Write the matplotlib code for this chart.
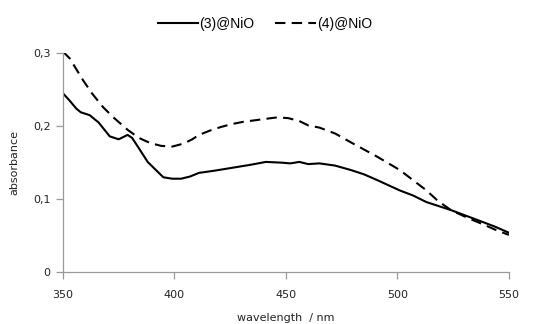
import matplotlib
matplotlib.use("Agg")
import matplotlib.pyplot as plt

# (3)@NiO, solid line
wl_3 = [350, 353, 356, 358, 362, 366, 371, 375, 379, 381, 384, 388, 392, 395, 399, 403,
        407, 411, 418, 426, 434, 441, 448, 452, 456, 460, 465, 472, 479, 485, 491, 501,
        507, 513, 518, 524, 531, 538, 544, 550]
abs_3 = [0.245, 0.235, 0.224, 0.219, 0.215, 0.205, 0.186, 0.182, 0.188, 0.184, 0.170, 0.151,
         0.139, 0.130, 0.128, 0.128, 0.131, 0.136, 0.139, 0.143, 0.147, 0.151, 0.150, 0.149,
         0.151, 0.148, 0.149, 0.146, 0.140, 0.134, 0.126, 0.112, 0.105, 0.096, 0.091, 0.085,
         0.077, 0.069, 0.062, 0.054]

# (4)@NiO, dashed line
wl_4 = [350, 353, 356, 359, 363, 368, 373, 379, 384, 389, 394, 399, 404, 408, 411, 416,
        421, 426, 431, 436, 441, 446, 451, 456, 460, 465, 472, 479, 485, 491, 496, 501,
        507, 513, 518, 524, 531, 538, 544, 550]
abs_4 = [0.302, 0.293, 0.278, 0.263, 0.245, 0.226, 0.211, 0.195, 0.184, 0.177, 0.173, 0.172,
         0.176, 0.182, 0.188, 0.194, 0.199, 0.203, 0.206, 0.208, 0.210, 0.212, 0.211, 0.207,
         0.201, 0.198, 0.190, 0.178, 0.168, 0.158, 0.149, 0.140, 0.126, 0.112, 0.098, 0.085,
         0.075, 0.066, 0.058, 0.051]

x_ticks = [350, 400, 450, 500, 550]
y_ticks = [0, 0.1, 0.2, 0.3]
y_labels = ["0", "0,1", "0,2", "0,3"]

fig = plt.figure(figsize=(5.52, 3.24), dpi=100)
ax = fig.add_axes([0.114, 0.160, 0.808, 0.676])

ax.plot(wl_3, abs_3, color="black", lw=1.5, ls="-", label="(3)@NiO")
ax.plot(wl_4, abs_4, color="black", lw=1.5, ls=(0, (5, 3)), label="(4)@NiO")

ax.set_xlim(350, 550)
ax.set_ylim(0, 0.3)
ax.set_xticks(x_ticks)
ax.set_yticks(y_ticks)
ax.set_yticklabels(y_labels)

for s in ["top", "right"]:
    ax.spines[s].set_visible(False)
for s in ["left", "bottom"]:
    ax.spines[s].set_color("#999999")
    ax.spines[s].set_linewidth(0.9)
ax.tick_params(direction="out", length=5, width=0.9, color="#999999",
               labelsize=8, labelcolor="#222222", pad=4)
for lab in ax.get_xticklabels() + ax.get_yticklabels():
    lab.set_family("DejaVu Sans")
ax.tick_params(axis="x", pad=8)

ax.set_xlabel("wavelength  / nm", fontsize=8, color="#222222", labelpad=9)
ax.set_ylabel("absorbance", fontsize=8, color="#222222", labelpad=10)

fig.legend(loc="upper center", bbox_to_anchor=(0.48, 0.985), ncol=2, frameon=False,
           prop={"family": "Liberation Sans", "size": 10}, handlelength=2.9,
           handletextpad=0.1, columnspacing=1.5)

fig.savefig("out.png", dpi=100)
